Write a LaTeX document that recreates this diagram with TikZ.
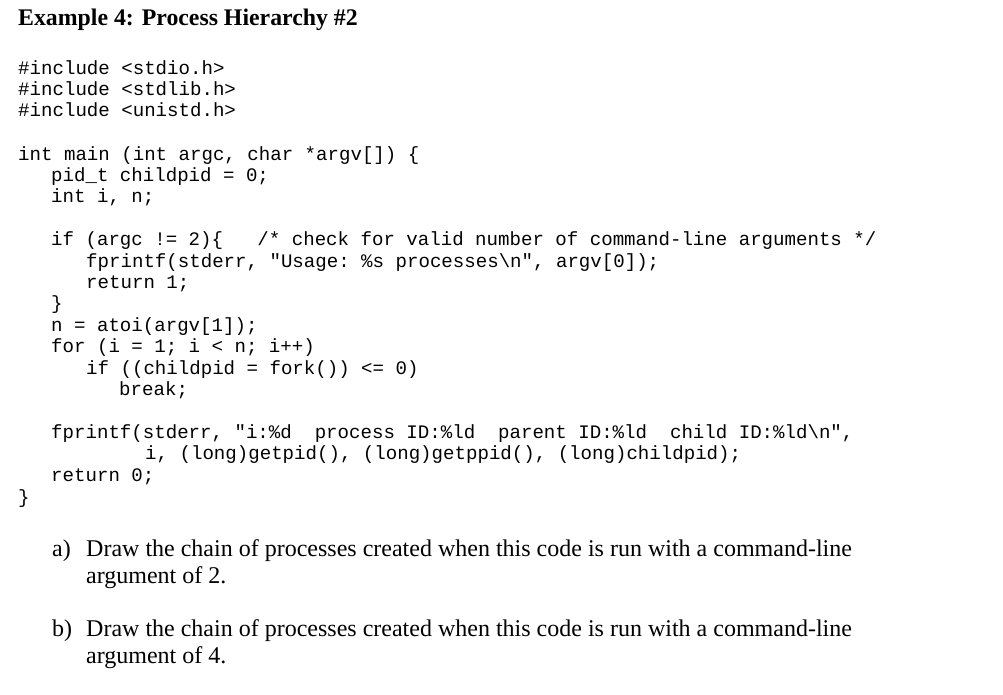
\documentclass[tikz,border=0pt]{standalone}
\usepackage{fontspec}
\setmainfont{Liberation Serif}
\setmonofont{Liberation Mono}
\begin{document}
\begin{tikzpicture}[x=1pt,y=-1pt,
  code/.style={anchor=mid west,inner sep=0pt,yshift=-4pt,font=\fontsize{19.1}{20}\ttfamily},
  txt/.style={anchor=mid west,inner sep=0pt,yshift=-4pt,font=\fontsize{24}{26}\selectfont},
  head/.style={anchor=mid west,inner sep=0pt,yshift=-4pt,font=\fontsize{23.8}{26}\bfseries}]
\useasboundingbox (0,0) rectangle (1003,694);
\node[head] (h) at (18,19) {Example 4: Process Hierarchy \#2};
\node[code] (l1) at (18,68) {\#include <stdio.h>};
\node[code] (l2) at (18,89) {\#include <stdlib.h>};
\node[code] (l3) at (18,110) {\#include <unistd.h>};
\node[code] (l4) at (18,154) {int main (int argc, char *argv[]) \{};
\node[code] (l5) at (51,175) {pid\_t childpid = 0;};
\node[code] (l6) at (51,196) {int i, n;};
\node[code] (l7) at (51,239) {if (argc != 2)\{~~~/* check for valid number of command-line arguments */};
\node[code] (l8) at (86,261) {fprintf(stderr, "Usage: \%s processes\textbackslash n", argv[0]);};
\node[code] (l9) at (86,282) {return 1;};
\node[code] (l10) at (51,303) {\}};
\node[code] (l11) at (51,325) {n = atoi(argv[1]);};
\node[code] (l12) at (51,346) {for (i = 1; i < n; i++)};
\node[code] (l13) at (86,368) {if ((childpid = fork()) <= 0)};
\node[code] (l14) at (119,389) {break;};
\node[code] (l15) at (51,432) {fprintf(stderr, "i:\%d~~process ID:\%ld~~parent ID:\%ld~~child ID:\%ld\textbackslash n",};
\node[code] (l16) at (145,453) {i, (long)getpid(), (long)getppid(), (long)childpid);};
\node[code] (l17) at (51,475) {return 0;};
\node[code] (l18) at (18,497) {\}};
\node[txt] (a) at (52,550) {a)};
\node[txt] (a1) at (86,550) {Draw the chain of processes created when this code is run with a command-line};
\node[txt] (a2) at (86,577) {argument of 2.};
\node[txt] (b) at (52,630) {b)};
\node[txt] (b1) at (86,630) {Draw the chain of processes created when this code is run with a command-line};
\node[txt] (b2) at (86,657) {argument of 4.};
\end{tikzpicture}
\end{document}
